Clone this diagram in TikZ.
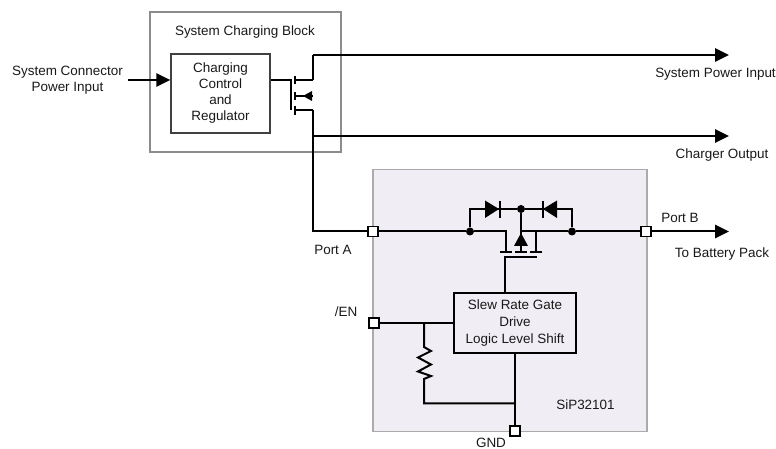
\documentclass[tikz,border=0pt]{standalone}
\usepackage{fontspec}
\setmainfont{Liberation Sans}
\usepackage{xcolor}
\usetikzlibrary{arrows.meta}
\definecolor{chipfill}{HTML}{F0EEF4}
\definecolor{chipedge}{HTML}{ABABAB}
\definecolor{blockedge}{HTML}{8C8C8C}
\tikzset{
  lbl/.style={font=\fontsize{10.1}{12}\selectfont,align=center,text=black!90,inner sep=0pt},
  wire/.style={black,line width=1.5pt},
  sig/.style={black,line width=1.5pt,-{Triangle[length=10.5pt,width=10pt]}},
  dot/.style={fill=black,circle,inner sep=0pt,minimum size=6pt},
  port/.style={draw=black,fill=white,line width=1.2pt,inner sep=0pt,minimum size=7.5pt},
  fet/.style={black,line width=1.5pt}
}
\begin{document}
\begin{tikzpicture}[x=.75pt,y=-.75pt]
    \useasboundingbox (0,0) rectangle (776,449);

    % boxes
    \node[draw=blockedge,line width=1.5pt,minimum width=143.25pt,minimum height=105pt,inner sep=0pt] (block) at (245.5,82) {};
    \node[draw=chipedge,fill=chipfill,line width=.9pt,minimum width=205.5pt,minimum height=197pt,inner sep=0pt] (chip) at (510,300.5) {};
    \node[draw=black!75,line width=1pt,lbl,minimum width=74.25pt,minimum height=59.25pt] (ctrl) at (220.5,93.5) {Charging\\Control\\and\\Regulator};
    \node[draw=black,line width=1.5pt,lbl,minimum width=91.5pt,minimum height=45pt] (slew) at (515,323) {Slew Rate Gate\\[.5pt]Drive\\[.5pt]Logic Level Shift};

    % labels
    \node[lbl] (title) at (245,32) {System Charging Block};
    \node[lbl] (conn) at (67.5,80.5) {System Connector\\Power Input};
    \node[lbl] (syspwr) at (715.5,74.5) {System Power Input};
    \node[lbl] (chgout) at (722,155) {Charger Output};
    \node[lbl] (porta) at (333,250) {Port A};
    \node[lbl] (portb) at (680,218) {Port B};
    \node[lbl] (batt) at (722,254) {To Battery Pack};
    \node[lbl] (en) at (346,312) {/EN};
    \node[lbl] (gnd) at (491,443) {GND};
    \node[lbl] (part) at (585.5,404.5) {SiP32101};

    % pins
    \node[port] (pA) at (373,231.5) {};
    \node[port] (pB) at (646,231.5) {};
    \node[port] (pEN) at (374,323) {};
    \node[port] (pGND) at (515,431) {};

    % junctions
    \node[dot] (jl) at (470,231.5) {};
    \node[dot] (jr) at (572,231.5) {};
    \node[dot] (jt) at (521,209) {};

    \coordinate (inS) at (128,80);
    \coordinate (gate) at (291,80);
    \coordinate (gateb) at (291,110);
    \coordinate (dr) at (295,80);
    \coordinate (sr) at (295,110);
    \coordinate (bd) at (295,96);
    \coordinate (rail) at (313,96);
    \coordinate (top) at (313,55);
    \coordinate (low) at (313,110);
    \coordinate (tap) at (313,136);
    \coordinate (corner) at (313,231.5);
    \coordinate (sysE) at (729,55);
    \coordinate (chgE) at (729,136);
    \coordinate (batE) at (729,231.5);
    \coordinate (rtop) at (424,323);
    \coordinate (r1) at (424,347);
    \coordinate (r2) at (424,379);
    \coordinate (rbot) at (424,403.5);
    \coordinate (rend) at (515,403.5);

    % charger side
    \draw[sig] (inS)--(ctrl.west|-inS);
    \draw[wire,line width=1.2pt] (ctrl.east|-inS)--(gate)--(gateb);
    \draw[fet] (295,76)--(295,84) (295,92)--(295,100) (295,106)--(295,115);
    \draw[wire,line width=1.2pt] (dr)--(313,80) (sr)--(low);
    \draw[wire] (bd)--(rail);
    \fill[black] (303,96)--(312,91)--(312,101)--cycle;
    \draw[wire] (313,80)--(top);
    \draw[sig] (top)--(sysE);
    \draw[wire] (low)--(corner)--(pA);
    \draw[sig] (tap)--(chgE);

    % mosfet and diodes
    \draw[wire] (pA)--(jl);
    \draw[wire] (jl)--(506,231.5)--(506,252);
    \draw[wire] (521,231.5)--(jr)--(pB);
    \draw[wire] (536,231.5)--(536,252);
    \draw[wire] (jt)--(521,252);
    \draw[fet] (500,252)--(512,252) (515,252)--(527,252) (530,252)--(542,252);
    \draw[wire,line width=1.2pt] (slew.north-|505,0)--(505,257)--(537,257);
    \fill[black] (521,233)--(528,246)--(514,246)--cycle;
    \draw[wire] (jl)--(470,209)--(jt)--(572,209)--(jr);
    \fill[black] (485,200.5)--(499,209)--(485,218)--cycle;
    \draw[wire] (500,201)--(500,218);
    \fill[black] (557,200.5)--(543,209)--(557,218)--cycle;
    \draw[wire] (543,201)--(543,218);

    % slew block wiring
    \draw[sig] (pB)--(batE);
    \draw[wire] (pEN)--(slew);
    \draw[wire] (rtop)--(r1)--(431,351)--(418,357.5)--(431,364.5)--(418,371.5)--(431,376)--(r2)--(rbot)--(rend);
    \draw[wire] (slew.south)--(pGND);
    \node[port] at (pA) {};
    \node[port] at (pB) {};
    \node[port] at (pEN) {};
    \node[port] at (pGND) {};
\end{tikzpicture}
\end{document}
